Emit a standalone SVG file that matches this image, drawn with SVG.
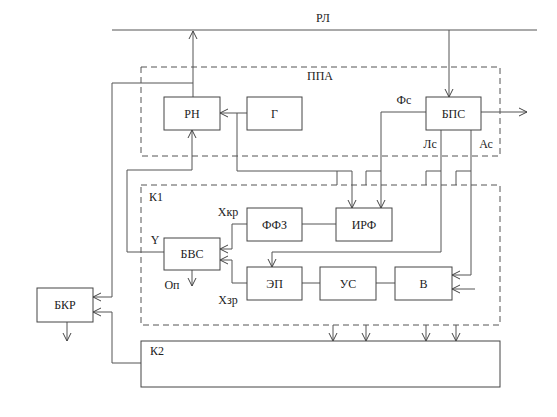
<svg xmlns="http://www.w3.org/2000/svg" width="557" height="417" viewBox="0 0 557 417">
<style>
.b{fill:#fff;stroke:#444;stroke-width:1}
.d{fill:none;stroke:#555;stroke-width:1;stroke-dasharray:6,4}
.c{fill:none;stroke:#555;stroke-width:1}
.ar{marker-end:url(#a)}
text{font-family:"Liberation Serif","Times New Roman",serif;font-size:12px;fill:#222}
.m{text-anchor:middle}
</style>
<defs>
<marker id="a" markerWidth="10" markerHeight="10" refX="9" refY="5" orient="auto" markerUnits="userSpaceOnUse">
<path d="M1,1 L9,5 L1,9" fill="none" stroke="#444" stroke-width="1"/>
</marker>
</defs>
<rect width="557" height="417" fill="#fff"/>
<g id="rl">
<line x1="112" y1="30" x2="537" y2="30" class="c"/>
<text x="323" y="22" class="m">РЛ</text>
</g>
<g id="ppa">
<rect x="141" y="67" width="359" height="89" class="d"/>
<text x="320" y="80" class="m">ППА</text>
</g>
<g id="k1">
<rect x="141" y="185" width="359" height="140" class="d"/>
<text x="149" y="201">К1</text>
</g>
<g id="connectors">
<path class="c ar" d="M193,97 V31"/>
<path class="c ar" d="M449,30 V97"/>
<path class="c ar" d="M481,112 H527"/>
<path class="c ar" d="M247,113 H220"/>
<path class="c ar" d="M237,113 V171 H352 V208"/>
<path class="c" d="M337,171 V185"/>
<path class="c ar" d="M426,112 H381 V208"/>
<path class="c" d="M366,185 V171 H381"/>
<path class="c ar" d="M441,130 V252 H272 V267"/>
<path class="c" d="M426,185 V171 H441"/>
<path class="c ar" d="M471,130 V275 H452"/>
<path class="c" d="M456,185 V171 H471"/>
<path class="c ar" d="M475,289 H452"/>
<path class="c" d="M302,224 H336"/>
<path class="c" d="M302,283 H320"/>
<path class="c" d="M376,283 H395"/>
<path class="c ar" d="M247,224 H232 V249 H220"/>
<path class="c ar" d="M247,283 H232 V260 H220"/>
<path class="c ar" d="M192,270 V286"/>
<path class="c ar" d="M164,252 H127 V170 H192 V130"/>
<path class="c ar" d="M193,83 H112 V297 H93"/>
<path class="c ar" d="M141,363 H112 V312 H93"/>
<path class="c ar" d="M67,322 V341"/>
<path class="c ar" d="M333,325 V341"/>
<path class="c ar" d="M366,325 V341"/>
<path class="c ar" d="M426,325 V341"/>
<path class="c ar" d="M456,325 V341"/>
</g>
<g id="rn"><rect x="164" y="97" width="56" height="33" class="b"/><text x="192" y="118" class="m">РН</text></g>
<g id="g"><rect x="247" y="97" width="55" height="33" class="b"/><text x="274.5" y="118" class="m">Г</text></g>
<g id="bps"><rect x="426" y="97" width="55" height="33" class="b"/><text x="453.5" y="118" class="m">БПС</text></g>
<g id="bvs"><rect x="164" y="238" width="56" height="32" class="b"/><text x="192" y="258" class="m">БВС</text></g>
<g id="ffz"><rect x="247" y="208" width="55" height="33" class="b"/><text x="274.5" y="229" class="m">ФФЗ</text></g>
<g id="irf"><rect x="336" y="208" width="56" height="33" class="b"/><text x="364" y="229" class="m">ИРФ</text></g>
<g id="ep"><rect x="247" y="267" width="55" height="33" class="b"/><text x="274.5" y="288" class="m">ЭП</text></g>
<g id="us"><rect x="320" y="267" width="56" height="33" class="b"/><text x="348" y="288" class="m">УС</text></g>
<g id="v"><rect x="395" y="267" width="57" height="33" class="b"/><text x="423.5" y="288" class="m">В</text></g>
<g id="bkr"><rect x="37" y="288" width="56" height="34" class="b"/><text x="65" y="309" class="m">БКР</text></g>
<g id="k2"><rect x="141" y="341" width="359" height="46" class="b"/><text x="150" y="355">К2</text></g>
<g id="labels">
<text x="404" y="104" class="m">Фс</text>
<text x="430" y="148" class="m">Лс</text>
<text x="486" y="148" class="m">Ас</text>
<text x="228" y="216" class="m">Xкр</text>
<text x="155" y="244" class="m">Y</text>
<text x="172" y="289" class="m">Оп</text>
<text x="228" y="304" class="m">Хзр</text>
</g>
</svg>
